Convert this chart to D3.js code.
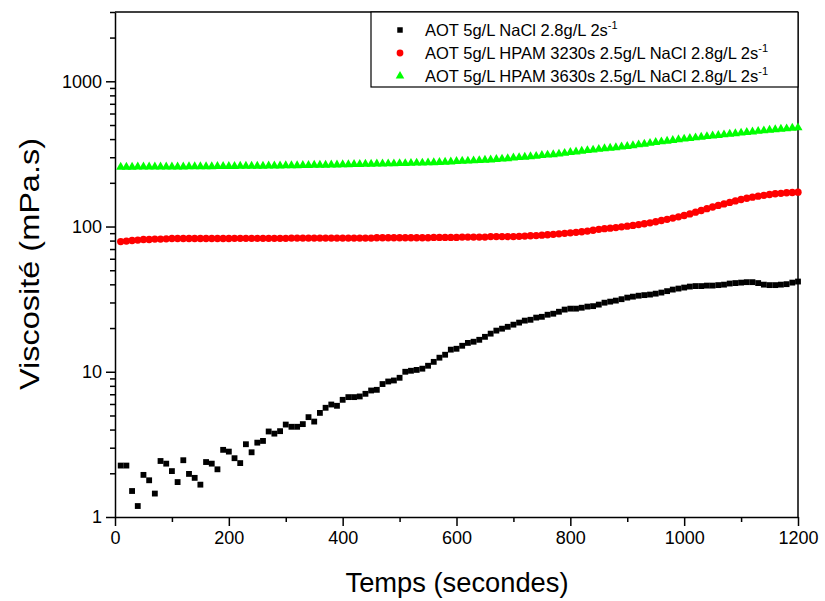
<!DOCTYPE html>
<html><head><meta charset="utf-8">
<script src="https://cdn.jsdelivr.net/npm/d3@7"></script>
<style>body{margin:0;background:#fff}svg{display:block}text{font-family:Arial,"Liberation Sans",sans-serif}</style>
</head><body>
<svg id="c" width="825" height="601"></svg>
<script>
// time points (s)
const times = [10,20,30,40,50,60,70,80,90,100,110,120,130,140,150,160,170,180,190,200,
210,220,230,240,250,260,270,280,290,300,310,320,330,340,350,360,370,380,390,400,
410,420,430,440,450,460,470,480,490,500,510,520,530,540,550,560,570,580,590,600,
610,620,630,640,650,660,670,680,690,700,710,720,730,740,750,760,770,780,790,800,
810,820,830,840,850,860,870,880,890,900,910,920,930,940,950,960,970,980,990,1000,
1010,1020,1030,1040,1050,1060,1070,1080,1090,1100,1110,1120,1130,1140,1150,1160,1170,1180,1190,1200];

const aotNaCl = [2.26,2.26,1.51,1.19,1.95,1.79,1.45,2.43,2.33,2.07,
1.74,2.46,1.98,1.86,1.67,2.39,2.33,2.13,2.90,2.82,
2.54,2.35,3.17,2.79,3.25,3.34,3.88,3.75,3.90,4.33,
4.18,4.18,4.36,4.87,4.54,5.21,5.65,5.95,5.83,6.41,
6.69,6.69,6.76,7.05,7.43,7.51,8.23,8.57,8.71,9.09,
10.0,10.16,10.3,10.5,11.0,11.7,12.5,13.1,14.2,14.4,
15.1,15.8,16.1,16.6,17.4,18.3,19.2,19.8,20.4,21.1,
21.8,22.5,22.8,23.6,23.9,24.7,25.1,25.9,26.8,27.2,
27.2,27.6,28.1,28.3,29.0,29.9,30.4,30.9,31.6,32.4,
32.9,33.4,33.7,34.0,34.5,35.1,35.9,36.8,37.4,38.0,
38.6,38.9,38.9,39.2,39.2,39.5,39.8,40.5,40.8,41.1,
41.4,41.4,40.8,39.8,39.5,39.5,39.8,40.1,41.1,41.8];

const hpam3230 = [78.8,79.4,80.1,80.7,81.4,81.4,82.0,82.0,82.3,82.7,
82.7,82.7,82.7,82.7,82.7,82.7,82.7,82.7,82.7,82.7,
82.9,82.9,82.9,82.9,82.9,82.9,82.9,82.9,82.9,82.9,
83.3,83.3,83.3,83.3,83.3,83.3,83.3,83.3,83.3,83.3,
83.3,83.3,83.3,83.3,83.3,83.7,83.7,83.7,83.7,83.7,
83.7,83.7,83.7,83.7,83.7,84.2,84.2,84.2,84.2,84.2,
84.6,84.6,84.6,84.6,84.6,85.3,85.3,85.3,85.3,85.3,
85.6,86.0,86.4,86.7,87.2,87.8,88.4,89.1,89.8,90.5,
91.2,92.1,93.1,94.3,95.6,96.6,97.5,98.4,99.5,100.6,
101.8,103.1,104.5,106.0,107.9,110.0,112.1,114.3,116.6,119.1,
122.1,125.5,128.9,132.7,136.3,139.8,143.1,146.6,150.1,153.5,
156.5,159.2,161.8,164.1,166.2,168.1,169.4,170.8,171.6,172.4];

const hpam3630 = [257,257,257,258,258,258,258,258,258,258,
258,258,259,259,259,259,259,260,260,260,
260,261,261,261,261,261,262,262,262,263,
263,263,264,264,265,265,265,266,266,267,
267,268,268,269,269,270,270,271,271,272,
272,273,274,274,275,276,277,278,279,281,
282,283,284,285,287,288,290,292,294,297,
299,301,303,305,309,311,313,316,320,324,
327,331,334,337,341,344,347,350,354,357,
361,366,370,375,380,384,388,392,397,401,
405,409,413,417,421,425,429,433,437,441,
445,449,453,457,461,465,469,472,476,479];

const legendLabels = ["AOT 5g/L NaCl 2.8g/L 2s", "AOT 5g/L HPAM 3230s 2.5g/L NaCl 2.8g/L 2s", "AOT 5g/L HPAM 3630s 2.5g/L NaCl 2.8g/L 2s"];
const xTicks = [0,200,400,600,800,1000,1200];
const yTicks = [1,10,100,1000];

const svg = d3.select("#c");
const L=115, R=798, T=12, B=517;
const x = d3.scaleLinear().domain([0,1200]).range([L,R]);
const y = d3.scaleLog().domain([1,3000]).range([B,T]);

// minor ticks
const xMinor = d3.range(100,1200,200);
const yMinor = [];
[1,10,100,1000].forEach(d=>{for(let k=2;k<=9;k++){const v=d*k; if(v<=3000) yMinor.push(v);}});

const gx = svg.append("g").attr("transform",`translate(0,${B})`);
gx.call(d3.axisBottom(x).tickValues(xTicks).tickFormat(d3.format("d")).tickSize(9).tickPadding(5).tickSizeOuter(0));
gx.append("g").call(d3.axisBottom(x).tickValues(xMinor).tickFormat("").tickSize(5).tickSizeOuter(0)).select(".domain").remove();
const gy = svg.append("g").attr("transform",`translate(${L},0)`);
gy.call(d3.axisLeft(y).tickValues(yTicks).tickFormat(d3.format("d")).tickSize(9).tickPadding(4).tickSizeOuter(0));
gy.append("g").call(d3.axisLeft(y).tickValues(yMinor).tickFormat("").tickSize(5).tickSizeOuter(0)).select(".domain").remove();
svg.selectAll(".tick text").attr("font-size",18).attr("fill","#000").attr("font-family","Arial, 'Liberation Sans', sans-serif");
svg.selectAll(".domain, .tick line").attr("stroke","#000").attr("stroke-width",1.5);

// frame top/right
svg.append("line").attr("x1",L).attr("x2",R).attr("y1",T).attr("y2",T).attr("stroke","#000").attr("stroke-width",1.5);
svg.append("line").attr("x1",R).attr("x2",R).attr("y1",T).attr("y2",B).attr("stroke","#000").attr("stroke-width",1.5);

const plot = svg.append("g");
const sq = d3.symbol().type(d3.symbolSquare).size(34);
const ci = d3.symbol().type(d3.symbolCircle).size(42);
const tr = d3.symbol().type(d3.symbolTriangle).size(36);

plot.selectAll(".g3").data(hpam3630).join("path").attr("d",tr)
  .attr("transform",(d,i)=>`translate(${x(times[i])},${y(d)})`).attr("fill","#00ff00");
plot.selectAll(".g2").data(hpam3230).join("path").attr("d",ci)
  .attr("transform",(d,i)=>`translate(${x(times[i])},${y(d)})`).attr("fill","#ff0000");
plot.selectAll(".g1").data(aotNaCl).join("path").attr("d",sq)
  .attr("transform",(d,i)=>`translate(${x(times[i])},${y(d)})`).attr("fill","#000");

// axis titles
svg.append("text").attr("x",457).attr("y",592).attr("text-anchor","middle")
  .attr("font-size",27).attr("textLength",223).attr("lengthAdjust","spacingAndGlyphs").text("Temps (secondes)");
svg.append("text").attr("transform",`translate(39,264) rotate(-90)`).attr("text-anchor","middle")
  .attr("font-size",27).attr("textLength",252).attr("lengthAdjust","spacingAndGlyphs").text("Viscosité (mPa.s)");

// legend
const lg = svg.append("g");
lg.append("rect").attr("x",371).attr("y",T).attr("width",R-371).attr("height",75)
  .attr("fill","#fff").attr("stroke","#000").attr("stroke-width",1.2);
const syms=[d3.symbol().type(d3.symbolSquare).size(30),d3.symbol().type(d3.symbolCircle).size(36),d3.symbol().type(d3.symbolTriangle).size(32)], cols=["#000","#ff0000","#00ff00"];
legendLabels.forEach((lab,i)=>{
  const cy = 30 + i*23;
  lg.append("path").attr("d",syms[i]).attr("transform",`translate(400,${cy})`).attr("fill",cols[i]);
  const t = lg.append("text").attr("x",425).attr("y",cy+6).attr("font-size",16.5).attr("fill","#000");
  t.append("tspan").text(lab);
  t.append("tspan").attr("dy",-7).attr("font-size",11).text("-1");
});
</script>
</body></html>
